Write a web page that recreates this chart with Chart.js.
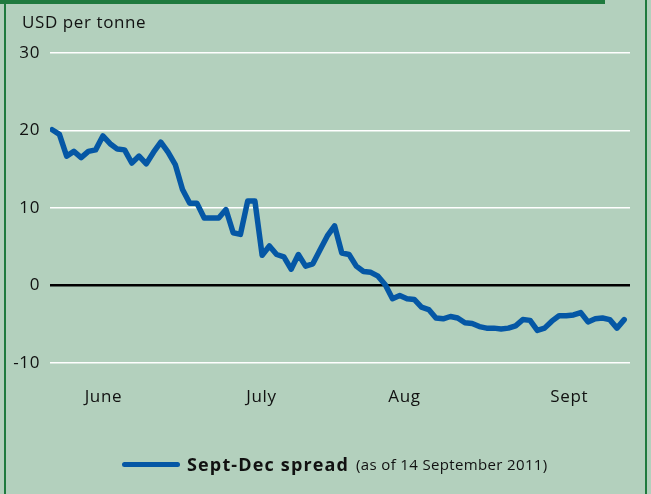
<!DOCTYPE html>
<html><head><meta charset="utf-8">
<script src="https://cdn.jsdelivr.net/npm/chart.js@4.4.1/dist/chart.umd.min.js"></script>
<style>
html,body{margin:0;padding:0;background:#b3d0bd;width:651px;height:494px;overflow:hidden;font-family:"Open Sans",sans-serif;}
#wrap{position:relative;width:651px;height:494px;}
canvas{position:absolute;left:0;top:0;}
#frame{position:absolute;left:4px;top:0;width:643px;height:494px;border-left:2px solid #1f7a3e;border-right:2px solid #1f7a3e;box-sizing:border-box;}
#topband{position:absolute;left:0;top:0;width:605px;height:4px;background:#1f7a3e;}
#ytitle{position:absolute;left:22px;top:10px;font-size:17px;letter-spacing:0.6px;color:#111;}
#legend{position:absolute;left:122px;top:452px;display:flex;align-items:center;color:#111;white-space:nowrap;}
.swatch{width:58px;height:5px;border-radius:3px;background:#0557a5;margin-right:7px;}
.lb{font-weight:bold;font-size:18px;letter-spacing:1.15px;}
.ls{font-size:15px;letter-spacing:0.35px;margin-left:7px;}
</style></head>
<body>
<div id="wrap">
<canvas id="c" width="651" height="494"></canvas>
<div id="frame"></div>
<div id="topband"></div>
<div id="ytitle">USD per tonne</div>
<div id="legend"><div class="swatch"></div><span class="lb">Sept-Dec spread</span><span class="ls">(as of 14 September 2011)</span></div>
</div>
<script>
// Sept-Dec spread, USD per tonne, daily (trading days, late May - 14 Sept 2011)
const spreadValues = [
  20.1, 19.5, 16.7, 17.3, 16.5, 17.3, 17.5, 19.3, 18.3, 17.6,
  17.5, 15.8, 16.7, 15.7, 17.2, 18.5, 17.2, 15.6, 12.4, 10.6,
  10.6, 8.7, 8.7, 8.7, 9.8, 6.8, 6.6, 10.9, 10.9, 3.9,
  5.1, 4.0, 3.7, 2.1, 4.0, 2.5, 2.8, 4.6, 6.4, 7.7,
  4.2, 4.0, 2.5, 1.8, 1.7, 1.2, 0.1, -1.7, -1.3, -1.7,
  -1.8, -2.8, -3.1, -4.2, -4.3, -4.0, -4.2, -4.8, -4.9, -5.3,
  -5.5, -5.5, -5.6, -5.5, -5.2, -4.4, -4.5, -5.8, -5.5, -4.6,
  -3.9, -3.9, -3.8, -3.5, -4.7, -4.3, -4.2, -4.4, -5.5, -4.4
];
const monthLabels = ['June', 'July', 'Aug', 'Sept'];
const monthTickIndex = [7.07, 28.9, 48.65, 71.4];
const yTicks = [-10, 0, 10, 20, 30];

const points = spreadValues.map((v, i) => ({x: i, y: v}));
const FONT = {family: '"Open Sans", sans-serif', size: 17};

const spacingPlugin = {
  id: 'spacing',
  beforeDraw: (chart) => { if ('letterSpacing' in chart.ctx) chart.ctx.letterSpacing = '0.6px'; }
};

new Chart(document.getElementById('c'), {
  type: 'line',
  plugins: [spacingPlugin],
  data: {
    datasets: [{
      label: 'Sept-Dec spread',
      data: points,
      borderColor: '#0557a5',
      borderWidth: 5.5,
      pointRadius: 0,
      tension: 0,
      borderJoinStyle: 'round',
      borderCapStyle: 'round',
      fill: false
    }]
  },
  options: {
    responsive: false,
    devicePixelRatio: 1,
    animation: false,
    layout: {padding: {top: 53, right: 21, left: 0, bottom: 0}},
    plugins: {legend: {display: false}, tooltip: {enabled: false}},
    scales: {
      x: {
        type: 'linear',
        min: -0.3,
        max: 79.8,
        grid: {display: false, drawTicks: false},
        border: {display: false},
        afterBuildTicks: (s) => { s.ticks = monthTickIndex.map(v => ({value: v})); },
        afterFit: (s) => { s.height = 131; },
        ticks: {
          autoSkip: false,
          maxRotation: 0,
          padding: 24,
          color: '#111',
          font: FONT,
          callback: (v) => { const k = monthTickIndex.indexOf(v); return k >= 0 ? monthLabels[k] : ''; }
        }
      },
      y: {
        min: -10,
        max: 30,
        afterBuildTicks: (s) => { s.ticks = yTicks.map(v => ({value: v})); },
        afterFit: (s) => { s.width = 50; },
        grid: {
          drawTicks: false,
          color: (c) => c.tick && c.tick.value === 0 ? '#000000' : '#ffffff',
          lineWidth: (c) => c.tick && c.tick.value === 0 ? 2.5 : 1.5
        },
        border: {display: false},
        ticks: {padding: 10, color: '#111', font: FONT}
      }
    }
  }
});
</script>
</body></html>
